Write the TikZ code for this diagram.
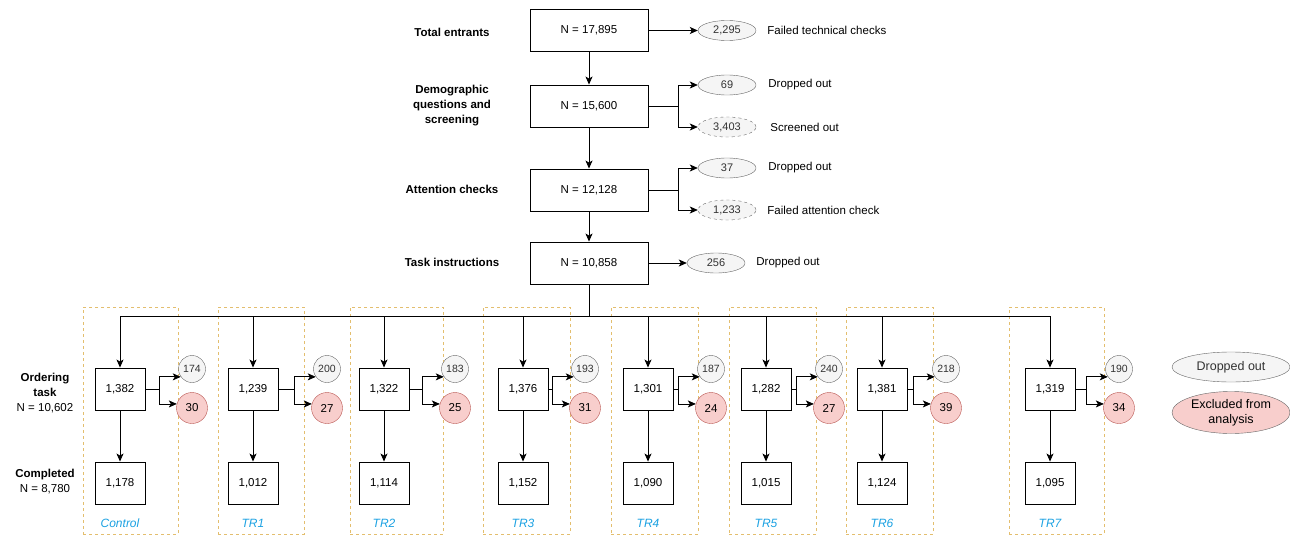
\documentclass[tikz,border=0pt]{standalone}
\usepackage{fontspec}
\setmainfont{Liberation Sans}
\usepackage{tikz}
\usetikzlibrary{positioning, arrows.meta, fit, shapes.geometric}
\definecolor{greyfill}{HTML}{F5F5F5}
\definecolor{greyline}{HTML}{666666}
\definecolor{redfill}{HTML}{F8CECC}
\definecolor{redline}{HTML}{B85450}
\definecolor{grpline}{HTML}{E3BE6E}
\definecolor{trblue}{HTML}{1BA1E2}

\begin{document}
\begin{tikzpicture}[x=1pt, y=-1pt]
\tikzstyle{block}=[draw, rectangle, line width=0.9pt, text centered, minimum height=42pt, minimum width=118pt, font=\fontsize{11.5}{14}\selectfont]
\tikzstyle{cell}=[block, minimum width=50pt]
\tikzstyle{stage}=[align=center, font=\fontsize{11.5}{15}\selectfont\bfseries]
\tikzstyle{note}=[inner sep=0pt, anchor=west, font=\fontsize{11.5}{14}\selectfont]
\tikzstyle{drop}=[draw=greyline, fill=greyfill, ellipse, inner sep=0pt, minimum width=58pt, minimum height=20pt, text=black!80, font=\fontsize{11}{14}\selectfont]
\tikzstyle{gone}=[draw=greyline, fill=greyfill, circle, inner sep=0pt, minimum size=27pt, text=black!80, font=\fontsize{10.5}{13}\selectfont]
\tikzstyle{excl}=[draw=redline, fill=redfill, circle, inner sep=0pt, minimum size=31pt, font=\fontsize{11.5}{14}\selectfont]
\tikzstyle{group}=[draw=grpline, dashed, line width=0.8pt, inner sep=0pt]
\tikzstyle{arr}=[line width=0.8pt, -{Stealth[length=8pt, width=7pt, inset=2pt]}]
\useasboundingbox (0,0) rectangle (1290,535);

% main stages
\node[block](total) at (589,30.5){N = 17,895};
\node[block](demo) at (589,106){N = 15,600};
\node[block](attn) at (589,190){N = 12,128};
\node[block](instr) at (589,263){N = 10,858};

\node[stage](ltotal) at (452,32){Total entrants};
\node[stage](ldemo) at (452,106){Demographic\\questions and\\screening};
\node[stage](lattn) at (452,189){Attention checks};
\node[stage](linstr) at (452,262){Task instructions};
\node[stage](lorder) at (45,393){Ordering\\task\\\normalfont N = 10,602};
\node[stage](ldone) at (45,482){Completed\\\normalfont N = 8,780};

% losses
\node[drop](tech) at (727,30.5){2,295};
\node[drop](drop1) at (727,85){69};
\node[drop, dashed](screen) at (727,127){3,403};
\node[drop](drop2) at (727,168){37};
\node[drop, dashed](fail) at (727,210){1,233};
\node[drop](drop3) at (716,263){256};

\node[note, right=11pt of tech]{Failed technical checks};
\node[note, right=12pt of drop1]{Dropped out};
\node[note, right=14pt of screen]{Screened out};
\node[note, right=12pt of drop2]{Dropped out};
\node[note, right=11pt of fail]{Failed attention check};
\node[note, right=11pt of drop3]{Dropped out};

\path[draw, arr](total) -- (demo);
\path[draw, arr](demo) -- (attn);
\path[draw, arr](attn) -- (instr);
\path[draw, arr](total) -- (tech);
\path[draw, arr](instr) -- (drop3);

\draw[line width=0.8pt] (demo.east) -- ++(30,0) coordinate(jdemo);
\draw[arr] (jdemo) |- (drop1);
\draw[arr] (jdemo) |- (screen);
\draw[line width=0.8pt] (attn.east) -- ++(30,0) coordinate(jattn);
\draw[arr] (jattn) |- (drop2);
\draw[arr] (jattn) |- (fail);

% randomised groups
\coordinate (bus) at (589,316);
\draw[line width=0.8pt] (instr) -- (bus);
\foreach \i/\cx/\kx/\gl/\gr/\a/\b/\c/\d/\lab in {
  0/120/192/83/178/{1,382}/174/30/{1,178}/Control,
  1/253/327/218/304/{1,239}/200/27/{1,012}/TR1,
  2/384/455/350/443/{1,322}/183/25/{1,114}/TR2,
  3/523/585/483/570/{1,376}/193/31/{1,152}/TR3,
  4/648/711/611/698/{1,301}/187/24/{1,090}/TR4,
  5/766/829/729/816/{1,282}/240/27/{1,015}/TR5,
  6/882/946/846/933/{1,381}/218/39/{1,124}/TR6,
  7/1050/1119/1009/1104/{1,319}/190/34/{1,095}/TR7}{
  \node[group, fit={(\gl,307) (\gr,534)}](grp\i){};
  \node[cell](o\i) at (\cx,389){\a};
  \node[cell](c\i) at (\cx,483){\d};
  \node[gone](g\i) at (\kx,369){\b};
  \node[excl](r\i) at (\kx,408){\c};
  \node[font=\fontsize{12}{14}\selectfont\itshape, text=trblue](t\i) at (\cx,523){\lab};
  \draw[arr] (o\i.north |- bus) -- (o\i.north);
  \draw[arr] (o\i) -- (c\i);
  \coordinate (j\i) at (\kx-33,389);
  \draw[line width=0.8pt] (o\i.east) -- (j\i);
  \draw[arr] (j\i) |- (g\i.215);
  \draw[arr] (j\i) |- (r\i.165);
}
\draw[line width=0.8pt] (o0.north |- bus) -- (o7.north |- bus);

% legend
\node[drop, minimum width=118pt, minimum height=30pt, font=\fontsize{12.5}{15}\selectfont](keydrop) at (1231,367){Dropped out};
\node[excl, ellipse, align=center, minimum width=118pt, minimum height=42pt, font=\fontsize{12.5}{15}\selectfont, draw=greyline](keyexcl) at (1231,412.5){Excluded from\\analysis};

\end{tikzpicture}
\end{document}
